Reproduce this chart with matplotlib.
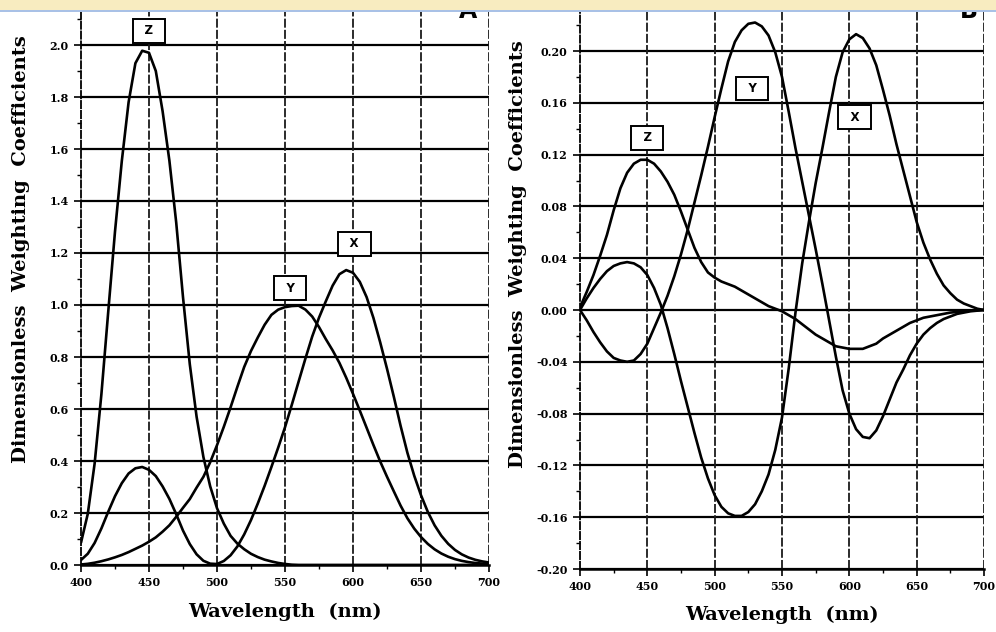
import numpy as np
import matplotlib
matplotlib.use("Agg")
import matplotlib.pyplot as plt
from matplotlib.ticker import MultipleLocator, FuncFormatter
from matplotlib.patches import Rectangle

# Wavelength grid (nm), 5 nm steps
wavelength = list(range(400, 705, 5))

# Panel A: colour-matching weighting functions
a_x = [0.0191, 0.0434, 0.0847, 0.1406, 0.2045, 0.2647, 0.3147, 0.3520, 0.3720, 0.3770,
       0.3660, 0.3420, 0.3023, 0.2541, 0.1956, 0.1323, 0.0805, 0.0411, 0.0162, 0.0051,
       0.0038, 0.0154, 0.0375, 0.0714, 0.1177, 0.1730, 0.2365, 0.3042, 0.3768, 0.4516,
       0.5298, 0.6161, 0.7052, 0.7938, 0.8787, 0.9512, 1.0142, 1.0743, 1.1185, 1.1343,
       1.1240, 1.0891, 1.0305, 0.9507, 0.8563, 0.7549, 0.6475, 0.5351, 0.4316, 0.3437,
       0.2683, 0.2043, 0.1526, 0.1122, 0.0813, 0.0579, 0.0409, 0.0286, 0.0199, 0.0138,
       0.0096]
a_y = [0.0020, 0.0045, 0.0088, 0.0145, 0.0214, 0.0295, 0.0387, 0.0496, 0.0621, 0.0747,
       0.0895, 0.1063, 0.1282, 0.1528, 0.1852, 0.2199, 0.2536, 0.2977, 0.3391, 0.3954,
       0.4608, 0.5314, 0.6067, 0.6857, 0.7618, 0.8233, 0.8752, 0.9238, 0.9620, 0.9822,
       0.9918, 0.9960, 0.9973, 0.9824, 0.9556, 0.9152, 0.8689, 0.8256, 0.7774, 0.7204,
       0.6583, 0.5939, 0.5280, 0.4618, 0.3981, 0.3396, 0.2835, 0.2283, 0.1798, 0.1402,
       0.1076, 0.0812, 0.0603, 0.0441, 0.0318, 0.0226, 0.0159, 0.0111, 0.0077, 0.0054,
       0.0037]
a_z = [0.0860, 0.1971, 0.3894, 0.6568, 0.9725, 1.2825, 1.5535, 1.7800, 1.9300, 1.9780,
       1.9700, 1.9000, 1.7454, 1.5549, 1.3176, 1.0302, 0.7721, 0.5701, 0.4153, 0.3024,
       0.2185, 0.1592, 0.1120, 0.0822, 0.0607, 0.0431, 0.0305, 0.0206, 0.0137, 0.0079,
       0.0040, 0.0011, 0.0, 0.0, 0.0, 0.0, 0.0, 0.0, 0.0, 0.0,
       0.0, 0.0, 0.0, 0.0, 0.0, 0.0, 0.0, 0.0, 0.0, 0.0,
       0.0, 0.0, 0.0, 0.0, 0.0, 0.0, 0.0, 0.0, 0.0, 0.0,
       0.0]

# Panel B: difference weighting functions
b_x = [0.000, 0.009, 0.017, 0.024, 0.030, 0.034, 0.036, 0.037, 0.036, 0.033,
       0.027, 0.017, 0.004, -0.014, -0.034, -0.055, -0.075, -0.095, -0.114, -0.130,
       -0.143, -0.152, -0.157, -0.159, -0.159, -0.156, -0.150, -0.140, -0.127, -0.108,
       -0.083, -0.045, -0.002, 0.036, 0.068, 0.098, 0.125, 0.153, 0.180, 0.199,
       0.209, 0.213, 0.210, 0.202, 0.189, 0.170, 0.150, 0.128, 0.108, 0.088,
       0.068, 0.052, 0.039, 0.028, 0.019, 0.013, 0.008, 0.005, 0.003, 0.001,
       0.000]
b_y = [0.000, -0.008, -0.017, -0.025, -0.032, -0.037, -0.039, -0.040, -0.039, -0.034,
       -0.026, -0.014, -0.002, 0.011, 0.026, 0.043, 0.062, 0.083, 0.104, 0.126,
       0.149, 0.171, 0.192, 0.207, 0.216, 0.221, 0.222, 0.219, 0.212, 0.199,
       0.180, 0.153, 0.125, 0.099, 0.073, 0.047, 0.020, -0.008, -0.036, -0.062,
       -0.080, -0.092, -0.098, -0.099, -0.093, -0.082, -0.069, -0.056, -0.046, -0.035,
       -0.026, -0.019, -0.014, -0.010, -0.007, -0.005, -0.003, -0.002, -0.001, -0.0005,
       0.000]
b_z = [0.002, 0.014, 0.027, 0.042, 0.058, 0.077, 0.094, 0.106, 0.113, 0.116,
       0.116, 0.113, 0.107, 0.099, 0.089, 0.076, 0.062, 0.048, 0.037, 0.029,
       0.025, 0.022, 0.020, 0.018, 0.015, 0.012, 0.009, 0.006, 0.003, 0.001,
       -0.001, -0.004, -0.007, -0.011, -0.015, -0.019, -0.022, -0.025, -0.028, -0.029,
       -0.030, -0.030, -0.030, -0.028, -0.026, -0.022, -0.019, -0.016, -0.013, -0.010,
       -0.008, -0.006, -0.005, -0.004, -0.003, -0.002, -0.0015, -0.001, -0.0005, -0.0002,
       0.000]

# Curve labels: (text, wavelength, value)
a_labels = [("Z", 450, 2.055), ("Y", 554, 1.065), ("X", 601, 1.235)]
b_labels = [("Z", 450, 0.133), ("Y", 528, 0.171), ("X", 604, 0.149)]

W, H = 996, 632
fig = plt.figure(figsize=(W / 100, H / 100), dpi=100)
fig.patch.set_facecolor("white")

serif = ["DejaVu Serif"]


def px_axes(left, right, bottom, top):
    return fig.add_axes([left / W, 1 - bottom / H, (right - left) / W, (bottom - top) / H])


def fmt_factory(decimals):
    def f(v, pos):
        if abs(v) < 1e-9:
            v = 0.0
        return f"{v:.{decimals}f}"
    return FuncFormatter(f)


def style_axes(ax, ymajor, yminor, decimals):
    ax.set_xlim(400, 700)
    ax.xaxis.set_major_locator(MultipleLocator(50))
    ax.xaxis.set_minor_locator(MultipleLocator(25))
    ax.yaxis.set_major_locator(MultipleLocator(ymajor))
    ax.yaxis.set_minor_locator(MultipleLocator(yminor))
    ax.yaxis.set_major_formatter(fmt_factory(decimals))
    ax.spines["top"].set_visible(False)
    ax.spines["right"].set_visible(False)
    ax.spines["left"].set_linestyle((0, (4, 1.5)))
    ax.spines["left"].set_linewidth(1.3)
    ax.spines["bottom"].set_linewidth(1.8)
    ax.tick_params(axis="both", which="major", direction="out", length=5, width=1.2,
                   labelsize=8, pad=4)
    ax.tick_params(axis="both", which="minor", direction="out", length=3, width=1.0)
    for lab in ax.get_xticklabels() + ax.get_yticklabels():
        lab.set_fontweight("bold")
        lab.set_family(serif)
    ax.grid(False)
    # horizontal rules at the major y ticks
    lo, hi = ax.get_ylim()
    for yv in ax.get_yticks():
        if lo - 1e-9 <= yv <= hi + 1e-9:
            ax.axhline(yv, color="black", lw=1.6, zorder=1)
    # dashed verticals at the major x ticks
    for xv in range(450, 701, 50):
        ax.axvline(xv, color="#1a1a1a", lw=1.3, ls=(0, (5, 1.2)), zorder=1)
    ax.set_xlabel("Wavelength  (nm)", fontsize=14, fontweight="bold", family=serif)
    ax.set_ylabel("Dimensionless  Weighting  Coefficients", fontsize=14,
                  fontweight="bold", family=serif)


def put_labels(ax, labels):
    for text, xv, yv in labels:
        ax.text(xv, yv, "\u2009 " + text + " \u2009", ha="center", va="center",
                fontsize=8.5, fontweight="bold", family=["DejaVu Sans"], zorder=5,
                bbox=dict(boxstyle="square,pad=0.45", fc="white", ec="black", lw=1.4))


# Panel A
axA = px_axes(81, 489, 565, 11)
axA.set_ylim(0, (565 - 11) / 260)
style_axes(axA, 0.2, 0.1, 1)
for ser in (a_x, a_y, a_z):
    axA.plot(wavelength, ser, color="black", lw=1.9, zorder=3, solid_capstyle="round")
put_labels(axA, a_labels)
axA.text(0.97, 1.0, "A", transform=axA.transAxes, ha="right", va="center",
         fontsize=17, fontweight="bold", family=["DejaVu Sans"], zorder=6)

# Panel B
axB = px_axes(580, 984, 569, 11)
axB.set_ylim(-0.20, -0.20 + (569 - 11) * 0.04 / 51.8)
style_axes(axB, 0.04, 0.02, 2)
for ser in (b_x, b_y, b_z):
    axB.plot(wavelength, ser, color="black", lw=1.9, zorder=3, solid_capstyle="round")
put_labels(axB, b_labels)
axB.text(0.985, 1.0, "B", transform=axB.transAxes, ha="right", va="center",
         fontsize=17, fontweight="bold", family=["DejaVu Sans"], zorder=6)

axA.yaxis.set_label_coords(-51 / 408, 0.57)
axB.yaxis.set_label_coords(-53 / 404, 0.565)
axA.xaxis.set_label_coords(0.5, -38 / 554)
axB.xaxis.set_label_coords(0.5, -37 / 558)

# header strip across the top
fig.patches.append(Rectangle((0, 1 - 10 / H), 1, 10 / H, transform=fig.transFigure,
                             facecolor="#f8ecc0", edgecolor="none", zorder=10))
fig.patches.append(Rectangle((0, 1 - 12 / H), 1, 2 / H, transform=fig.transFigure,
                             facecolor="#a9c1e6", edgecolor="none", zorder=10))

fig.savefig("out.png", dpi=100, facecolor="white")
